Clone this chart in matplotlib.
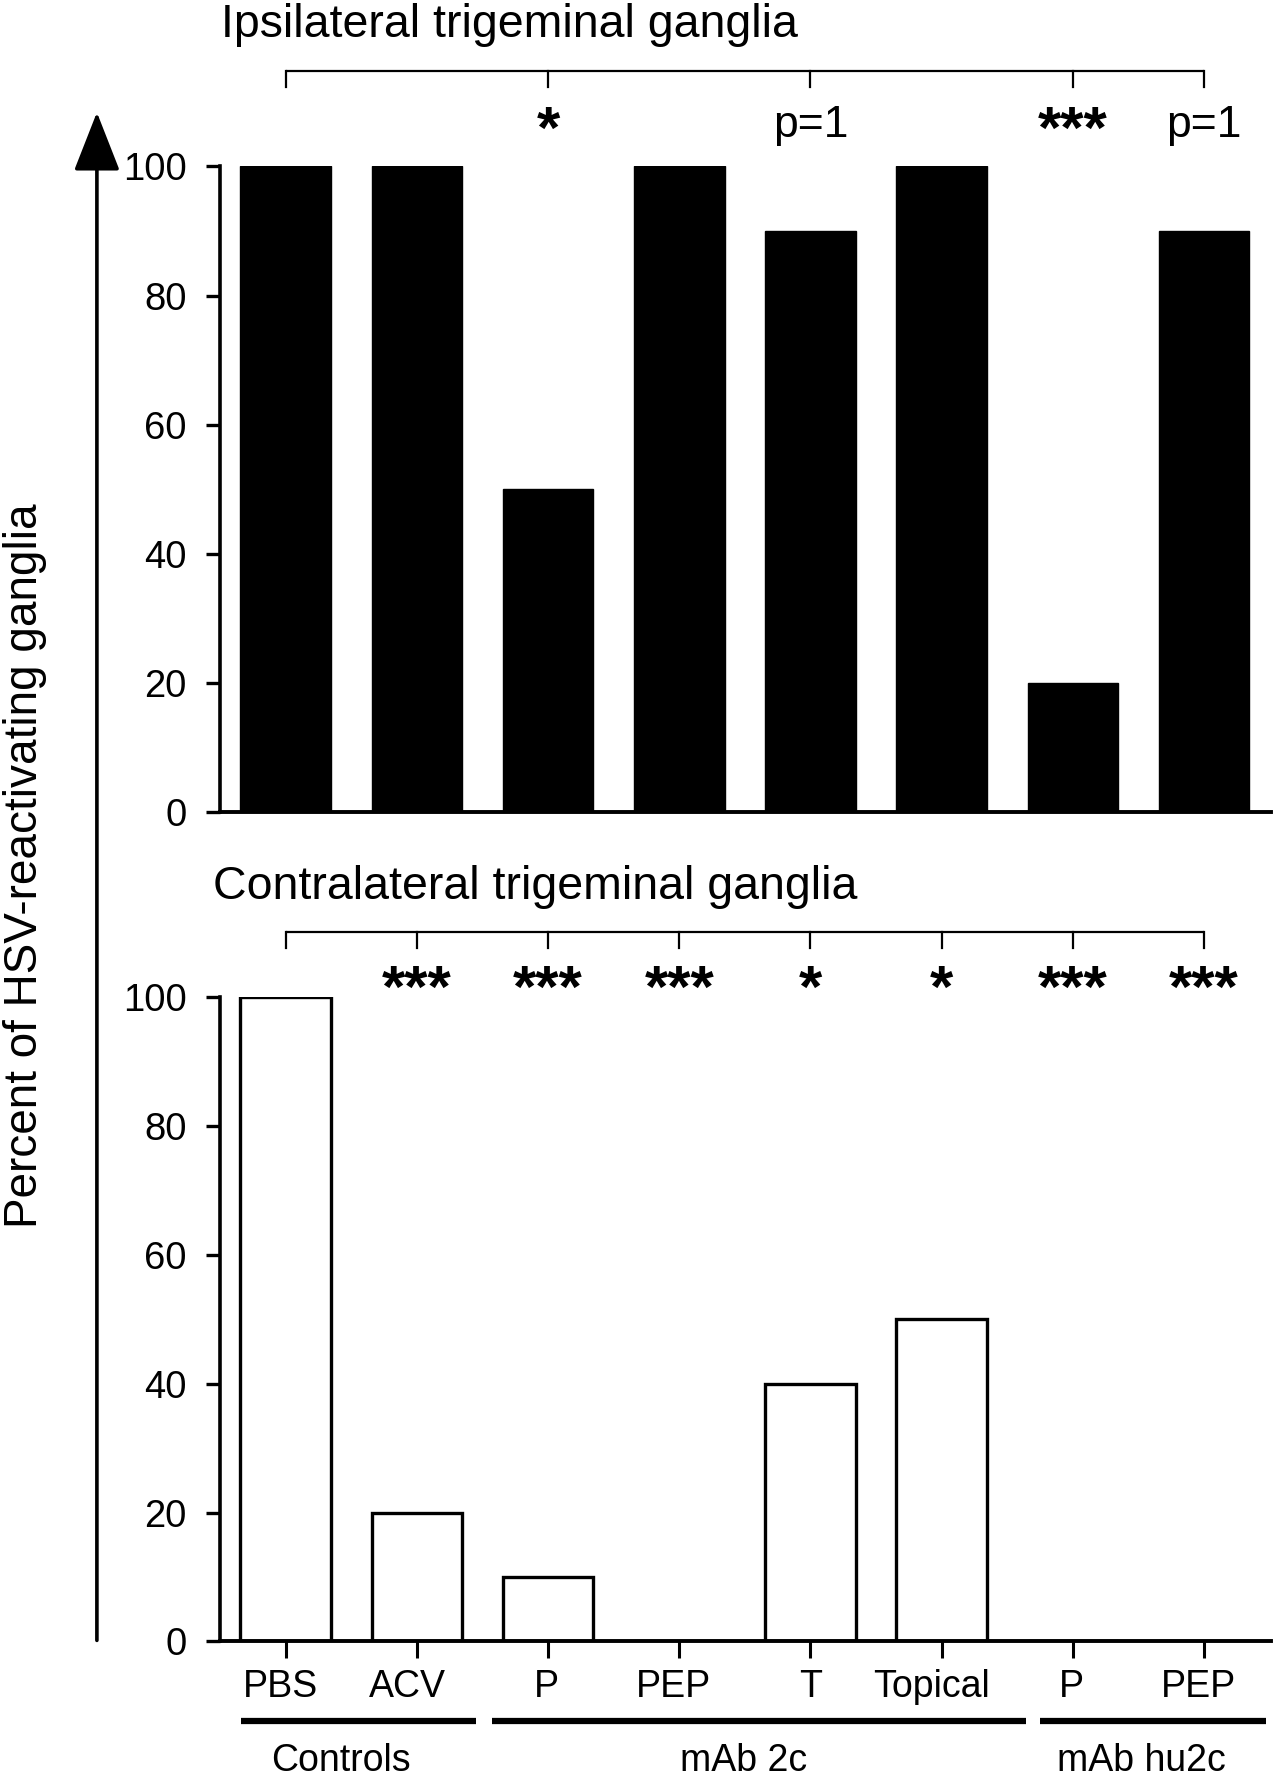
import matplotlib
matplotlib.use("Agg")
import matplotlib.pyplot as plt
from matplotlib.transforms import ScaledTranslation

plt.rcParams['font.family'] = ['Liberation Sans', 'DejaVu Sans']

#bar data
categories = ["PBS", "ACV", "P", "PEP", "T", "Topical", "P", "PEP"]
ipsilateral = [100, 100, 50, 100, 90, 100, 20, 90]
contralateral = [100, 20, 10, 0, 40, 50, 0, 0]

#significance marks against PBS (index -> label)
ipsi_marks = {2: "*", 4: "p=1", 6: "***", 7: "p=1"}
contra_marks = {1: "***", 2: "***", 3: "***", 4: "*", 5: "*", 6: "***", 7: "***"}

groups = ["Controls", "mAb 2c", "mAb hu2c"]
group_spans = [(-0.34, 1.45), (1.57, 5.64), (5.75, 7.47)]
group_label_x = [0.42, 3.49, 6.52]

y_ticks = [0, 20, 40, 60, 80, 100]

#the category labels sit a little left of their ticks in the original
label_shift_pt = [-4, -7, -1, -4, 0, -7, -1, -4]


def style_axes(ax):
    ax.set_xlim(-0.50, 7.51)
    ax.set_ylim(0, 100)
    ax.spines['top'].set_visible(False)
    ax.spines['right'].set_visible(False)
    ax.spines['left'].set_linewidth(2.6)
    ax.spines['bottom'].set_linewidth(2.8)
    ax.set_yticks(y_ticks)
    ax.tick_params(axis='y', direction='out', length=10, width=2.4,
                   labelsize=27.5, pad=14)


def draw_bracket(ax, y_line, y_tick, idx, x_from):
    ax.plot([x_from, 7], [y_line, y_line], color='black', lw=1.6,
            clip_on=False, solid_capstyle='butt')
    for i in idx:
        ax.plot([i, i], [y_line, y_tick], color='black', lw=1.6,
                clip_on=False)


def mark_text(ax, i, y, lab):
    #asterisks are drawn bigger and bolder than the p values
    if lab.startswith("*"):
        ax.text(i, y, lab, fontsize=43, fontweight='bold', ha='center',
                va='top', clip_on=False)
    else:
        ax.text(i, y, lab, fontsize=32, ha='center', va='top',
                clip_on=False)


def main():
    fig = plt.figure(figsize=(12.80, 17.84), dpi=100)
    x = list(range(len(categories)))

    #upper panel: ipsilateral
    ax1 = fig.add_axes([0.1719, 0.545, 0.8211, 0.3617])
    ax1.bar(x, ipsilateral, width=0.69, color='black', edgecolor='black')
    style_axes(ax1)
    ax1.set_xticks([])
    ax1.text(-0.49, 121.9, "Ipsilateral trigeminal ganglia", fontsize=33.5,
             ha='left', va='center', clip_on=False)
    draw_bracket(ax1, 114.8, 112.3, [0] + list(ipsi_marks.keys()), 0)
    for i, lab in ipsi_marks.items():
        mark_text(ax1, i, 109.6, lab)

    #lower panel: contralateral
    ax2 = fig.add_axes([0.1719, 0.0799, 0.8211, 0.3610])
    ax2.bar(x, contralateral, width=0.69, color='white', edgecolor='black',
            linewidth=2.4)
    style_axes(ax2)
    ax2.set_xticks(x)
    ax2.set_xticklabels(categories)
    ax2.tick_params(axis='x', direction='out', length=12, width=2.2,
                    labelsize=27, pad=8)
    for lab, dx in zip(ax2.get_xticklabels(), label_shift_pt):
        lab.set_transform(lab.get_transform() +
                          ScaledTranslation(dx / 72, 0, fig.dpi_scale_trans))
    ax2.text(-0.55, 117.2, "Contralateral trigeminal ganglia", fontsize=33.5,
             ha='left', va='center', clip_on=False)
    draw_bracket(ax2, 110.1, 107.6, x, 0)
    for i, lab in contra_marks.items():
        mark_text(ax2, i, 105.2, lab)

    #treatment groups under the lower axis
    for name, (a, b), lx in zip(groups, group_spans, group_label_x):
        ax2.plot([a, b], [-12.4, -12.4], color='black', lw=4.5,
                 clip_on=False, solid_capstyle='butt')
        ax2.text(lx, -18.6, name, fontsize=27, ha='center',
                 va='center', clip_on=False)

    #long arrow and shared y label
    ax2.annotate("", xy=(0.0757, 0.937), xycoords='figure fraction',
                 xytext=(0.0757, 0.0805), textcoords='figure fraction',
                 arrowprops=dict(arrowstyle='-|>,head_length=37,head_width=14.5',
                                 mutation_scale=1, lw=2.6, color='black',
                                 shrinkA=0, shrinkB=0))
    fig.text(0.0196, 0.515, "Percent of HSV-reactivating ganglia",
             fontsize=33, rotation=90, ha='center', va='center')

    fig.savefig("out.png", dpi=100)


if __name__ == '__main__':
    main()
